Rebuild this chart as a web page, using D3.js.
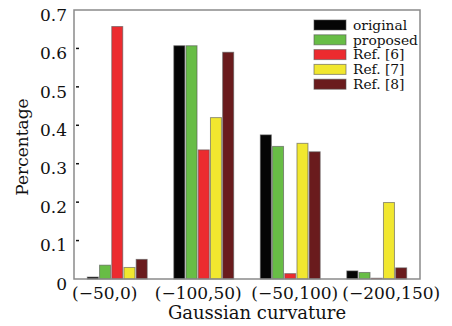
<!DOCTYPE html>
<html lang="en">
<head>
<meta charset="UTF-8">
<title>Gaussian curvature</title>
<script src="https://d3js.org/d3.v7.min.js"></script>
<style>
  body { margin: 0; background: #fff; }
  text { font-family: "DejaVu Serif", serif; fill: #111; }
</style>
</head>
<body>
<svg></svg>
<script>
// data
const categories = ["(\u221250,0)", "(\u2212100,50)", "(\u221250,100)", "(\u2212200,150)"];
const methods = ["original", "proposed", "Ref. [6]", "Ref. [7]", "Ref. [8]"];
const original = [0.005, 0.607, 0.375, 0.021];
const proposed = [0.036, 0.607, 0.345, 0.017];
const ref6 = [0.657, 0.336, 0.014, 0.002];
const ref7 = [0.030, 0.420, 0.353, 0.199];
const ref8 = [0.051, 0.590, 0.331, 0.029];
const yTicks = [0, 0.1, 0.2, 0.3, 0.4, 0.5, 0.6, 0.7];

const seriesValues = [original, proposed, ref6, ref7, ref8];
const colors = ["#050505", "#68bd46", "#ec2b2f", "#f1e72f", "#6a1b1d"];
// labels are nudged sideways so the long ones don't collide
const labelShift = [-12.5, -5.5, 4.5, 14.5];

const W = 452, H = 326;
const plot = { left: 74, right: 420, top: 10, bottom: 279 };

const svg = d3.select("svg").attr("width", W).attr("height", H);

const x0 = d3.scaleBand()
    .domain(categories)
    .range([plot.left, plot.right])
    .paddingInner(0.28)
    .paddingOuter(0.14);

const x1 = d3.scaleBand()
    .domain(methods)
    .range([0, x0.bandwidth()])
    .padding(0.1);

const y = d3.scaleLinear()
    .domain([0, 0.7])
    .range([plot.bottom, plot.top]);

// bars
const rows = categories.map((c, i) => ({
    cat: c,
    vals: methods.map((m, j) => ({ m, v: seriesValues[j][i], color: colors[j] }))
}));

svg.append("g").selectAll("g")
    .data(rows)
    .join("g")
    .attr("transform", d => `translate(${x0(d.cat)},0)`)
    .selectAll("rect")
    .data(d => d.vals)
    .join("rect")
    .attr("x", d => x1(d.m))
    .attr("y", d => y(d.v))
    .attr("width", x1.bandwidth())
    .attr("height", d => y(0) - y(d.v))
    .attr("fill", d => d.color)
    .attr("stroke", "#555")
    .attr("stroke-opacity", 0.6)
    .attr("stroke-width", 1);

// frame
svg.append("rect")
    .attr("x", plot.left)
    .attr("y", plot.top)
    .attr("width", plot.right - plot.left)
    .attr("height", plot.bottom - plot.top)
    .attr("fill", "none")
    .attr("stroke", "#8a8a8a")
    .attr("stroke-width", 1.5);

// y axis
const yAxis = svg.append("g")
    .attr("transform", `translate(${plot.left},0)`)
    .call(d3.axisLeft(y).tickValues(yTicks).tickSize(0).tickPadding(7)
        .tickFormat(d => d === 0 ? "0" : d3.format(".1f")(d)));
yAxis.select(".domain").remove();
yAxis.selectAll("text")
    .style("font-family", "DejaVu Serif, serif")
    .style("font-size", "17px")
    .attr("dy", "0.6em")
    .attr("fill", "#111");

// small inner tick marks
svg.append("g").selectAll("line")
    .data(yTicks.filter(t => t > 0 && t < 0.7))
    .join("line")
    .attr("x1", plot.left + 2)
    .attr("x2", plot.left + 5)
    .attr("y1", d => y(d))
    .attr("y2", d => y(d))
    .attr("stroke", "#111")
    .attr("stroke-width", 1.5);

// x axis labels
const xAxis = svg.append("g")
    .attr("transform", `translate(0,${plot.bottom})`)
    .call(d3.axisBottom(x0).tickSize(0).tickPadding(8));
xAxis.select(".domain").remove();
xAxis.selectAll("text")
    .style("font-family", "DejaVu Serif, serif")
    .style("font-size", "17px")
    .attr("dx", (d, i) => labelShift[i])
    .attr("fill", "#111");

// axis titles
svg.append("text")
    .attr("x", 257)
    .attr("y", 319)
    .attr("text-anchor", "middle")
    .style("font-size", "18px")
    .text("Gaussian curvature");

svg.append("text")
    .attr("transform", `translate(28,147) rotate(-90)`)
    .attr("text-anchor", "middle")
    .style("font-size", "17px")
    .text("Percentage");

// legend
const legend = svg.append("g").attr("transform", "translate(314,20)");
const lg = legend.selectAll("g")
    .data(methods)
    .join("g")
    .attr("transform", (d, i) => `translate(0,${i * 14.8})`);
lg.append("rect")
    .attr("width", 32)
    .attr("height", 10)
    .attr("fill", (d, i) => colors[i])
    .attr("stroke", "#555")
    .attr("stroke-opacity", 0.6);
lg.append("text")
    .attr("x", 39)
    .attr("y", 5)
    .attr("dy", "0.35em")
    .style("font-size", "13.8px")
    .text(d => d);
</script>
</body>
</html>
